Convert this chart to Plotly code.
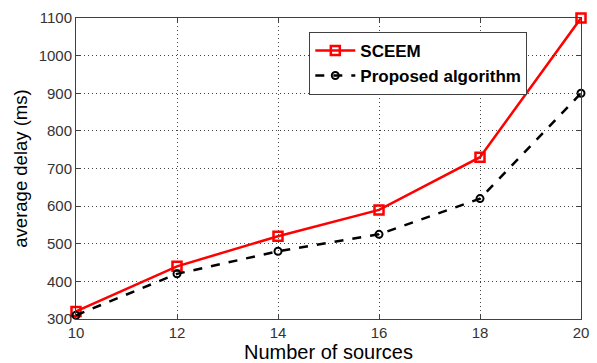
import plotly.graph_objects as go

sources = [10, 12, 14, 16, 18, 20]
sceem = [320, 440, 520, 590, 730, 1100]
proposed = [310, 420, 480, 525, 620, 900]
x_ticks = [10, 12, 14, 16, 18, 20]
y_ticks = [300, 400, 500, 600, 700, 800, 900, 1000, 1100]

fig = go.Figure()
fig.add_trace(go.Scatter(
    x=sources, y=sceem, name="SCEEM", mode="lines+markers", cliponaxis=False,
    line=dict(color="red", width=2.5),
    marker=dict(symbol="square-open", size=9, color="red", line=dict(width=2.5)),
))
fig.add_trace(go.Scatter(
    x=sources, y=proposed, name="Proposed algorithm", mode="lines+markers", cliponaxis=False,
    line=dict(color="black", width=2.5, dash="dash"),
    marker=dict(symbol="circle-open", size=7, color="black", line=dict(width=2)),
))

axis_common = dict(
    showline=True, linecolor="#404040", linewidth=1, mirror="ticks",
    ticks="inside", ticklen=5, tickcolor="#404040",
    showgrid=True, gridcolor="#444444", griddash="1px,3px", gridwidth=1,
    zeroline=False, tickfont=dict(family="Liberation Sans, Arial", size=15, color="#333333"),
)

fig.update_xaxes(range=[10, 20], tickvals=x_ticks,
                 title=dict(text="Number of sources", font=dict(family="Liberation Sans, Arial", size=20, color="black"), standoff=0),
                 **axis_common)
fig.update_yaxes(range=[300, 1100], tickvals=y_ticks,
                 title=dict(text="average delay (ms)", font=dict(family="Liberation Sans, Arial", size=18.5, color="black"), standoff=6),
                 **axis_common)

fig.update_layout(
    width=597, height=363,
    margin=dict(l=76, r=8, t=18, b=39),
    plot_bgcolor="white", paper_bgcolor="white",
    showlegend=True,
    legend=dict(
        x=0.462, y=0.954, xanchor="left", yanchor="top",
        bgcolor="white", bordercolor="#404040", borderwidth=1,
        font=dict(family="Liberation Sans, Arial", size=17, color="black", weight="bold"),
        itemwidth=40, tracegroupgap=0,
    ),
)

fig.write_html("out.html")
